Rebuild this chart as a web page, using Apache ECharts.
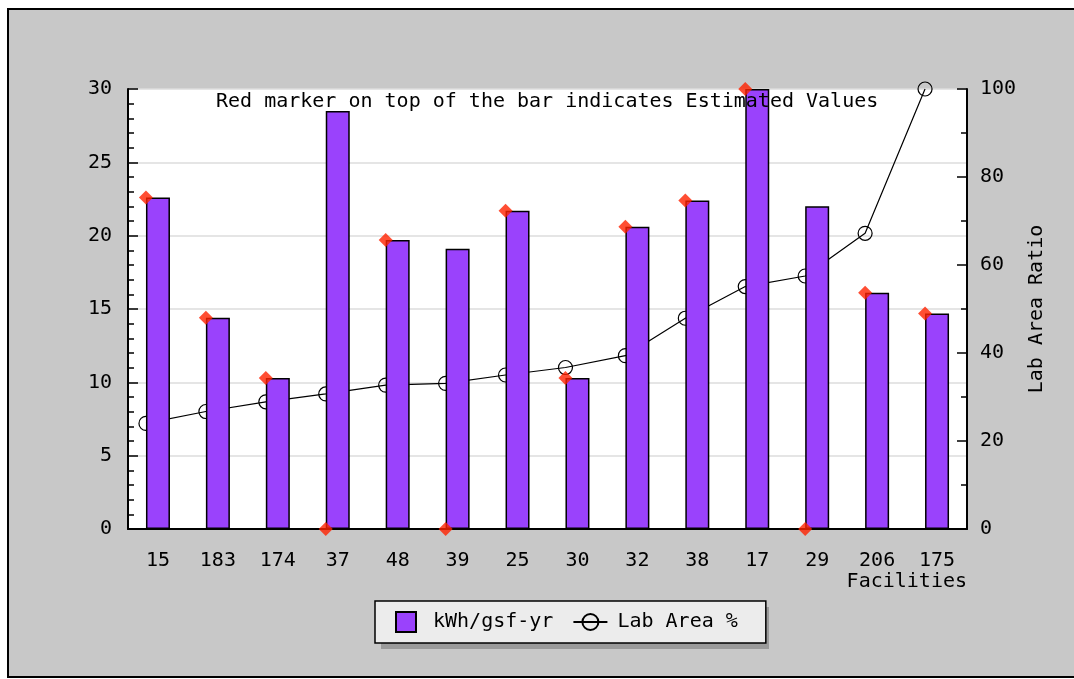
<!DOCTYPE html>
<html>
<head>
<meta charset="utf-8">
<script src="https://cdn.jsdelivr.net/npm/echarts@6/dist/echarts.min.js"></script>
<style>
  html, body { margin: 0; padding: 0; background: #fff; }
  #main { width: 1074px; height: 679px; }
</style>
</head>
<body>
<div id="main"></div>
<script>
// facility ids along the x axis
var facilities = ['15', '183', '174', '37', '48', '39', '25', '30', '32', '38', '17', '29', '206', '175'];
// bars, left axis
var kwhPerGsf = [22.6, 14.4, 10.3, 28.5, 19.7, 19.1, 21.7, 10.3, 20.6, 22.4, 30, 22.0, 16.1, 14.7];
// line, right axis
var labAreaPct = [24, 26.7, 28.9, 30.7, 32.7, 33.1, 35, 36.7, 39.4, 47.9, 55.1, 57.5, 67.2, 100];
// red markers (estimated values)
var estimated = [22.6, 14.4, 10.3, 0, 19.7, 0, 21.7, 10.3, 20.6, 22.4, 30, 0, 16.1, 14.7];

var font = 'DejaVu Sans Mono';
var chart = echarts.init(document.getElementById('main'));

var option = {
  animation: false,
  textStyle: { fontFamily: font },
  title: {
    text: 'Red marker on top of the bar indicates Estimated Values',
    left: 216,
    top: 92,
    padding: 0,
    textStyle: { fontFamily: font, fontSize: 20, fontWeight: 'normal', color: '#000' },
    z: 10
  },
  graphic: [
    {
      type: 'rect', z: -10, silent: true,
      shape: { x: 8, y: 9, width: 1080, height: 668 },
      style: { fill: '#c8c8c8', stroke: '#000', lineWidth: 2 }
    },
    {
      // legend drop shadow
      type: 'rect', z: -5, silent: true,
      shape: { x: 381, y: 607, width: 388, height: 42 },
      style: { fill: '#9a9a9a' }
    }
  ],
  legend: {
    left: 375,
    top: 601,
    padding: [10, 28, 10, 20],
    itemWidth: 34,
    itemHeight: 20,
    itemGap: 19,
    backgroundColor: '#ececec',
    borderColor: '#000',
    borderWidth: 1.5,
    textStyle: { fontFamily: font, fontSize: 20, color: '#000', padding: [0, 0, 0, 5] },
    data: [
      { name: 'kWh/gsf-yr', icon: 'path://M0,0H10V10H0Z' },
      { name: 'Lab Area %' }
    ]
  },
  grid: [
    { left: 128, right: 107, top: 89, bottom: 150, show: true, backgroundColor: '#fff', borderWidth: 0 },
    { left: 116, right: 119, top: 89, bottom: 150, show: false }
  ],
  xAxis: [
    {
      type: 'category',
      gridIndex: 0,
      data: facilities,
      boundaryGap: true,
      axisLine: { lineStyle: { color: '#000', width: 2 } },
      axisTick: { inside: true, length: 9, lineStyle: { color: '#000', width: 1.5 } },
      axisLabel: { color: '#000', fontSize: 20, margin: 22, fontFamily: font },
      name: 'Facilities',
      nameLocation: 'end',
      nameGap: 0,
      nameTextStyle: { color: '#000', fontSize: 20, fontFamily: font, align: 'right', verticalAlign: 'top', padding: [43, 0, 0, 0] }
    },
    {
      type: 'category',
      gridIndex: 1,
      data: facilities,
      show: false
    }
  ],
  yAxis: [
    {
      type: 'value',
      gridIndex: 0,
      position: 'left',
      min: 0, max: 30, interval: 5,
      axisLine: { show: true, lineStyle: { color: '#000', width: 2 } },
      axisTick: { show: true, inside: true, length: 10, lineStyle: { color: '#000', width: 1.5 } },
      minorTick: { show: true, splitNumber: 5, length: 6, lineStyle: { color: '#000', width: 1.5 } },
      axisLabel: { color: '#000', fontSize: 20, margin: 16, fontFamily: font },
      splitLine: { show: true, lineStyle: { color: '#dcdcdc', width: 1.5 } }
    },
    {
      type: 'value',
      gridIndex: 0,
      position: 'right',
      min: 0, max: 100, interval: 20,
      axisLine: { show: true, lineStyle: { color: '#000', width: 2 } },
      axisTick: { show: true, inside: true, length: 10, lineStyle: { color: '#000', width: 1.5 } },
      minorTick: { show: true, splitNumber: 2, length: 6, lineStyle: { color: '#000', width: 1.5 } },
      axisLabel: { color: '#000', fontSize: 20, margin: 13, fontFamily: font },
      splitLine: { show: false },
      name: 'Lab Area Ratio',
      nameLocation: 'middle',
      nameRotate: 90,
      nameGap: 56,
      nameTextStyle: { color: '#000', fontSize: 20, fontFamily: font }
    },
    { type: 'value', gridIndex: 1, min: 0, max: 100, show: false },
    { type: 'value', gridIndex: 1, min: 0, max: 30, show: false }
  ],
  series: [
    {
      name: 'kWh/gsf-yr',
      type: 'bar',
      xAxisIndex: 0,
      yAxisIndex: 0,
      barWidth: 24,
      z: 3,
      itemStyle: { color: '#9a42fc', borderColor: '#000', borderWidth: 1.5 },
      data: kwhPerGsf
    },
    {
      name: 'Lab Area %',
      type: 'line',
      xAxisIndex: 1,
      yAxisIndex: 2,
      z: 2,
      symbol: 'circle',
      symbolSize: 14,
      itemStyle: { color: 'rgba(255,255,255,0)', borderColor: '#000', borderWidth: 1.2 },
      lineStyle: { color: '#000', width: 1.2 },
      data: labAreaPct
    },
    {
      name: 'Estimated',
      type: 'scatter',
      xAxisIndex: 1,
      yAxisIndex: 3,
      z: 5,
      symbol: 'diamond',
      symbolSize: [14, 14],
      itemStyle: { color: '#ff2200' },
      data: estimated
    }
  ]
};

chart.setOption(option);
</script>
</body>
</html>
